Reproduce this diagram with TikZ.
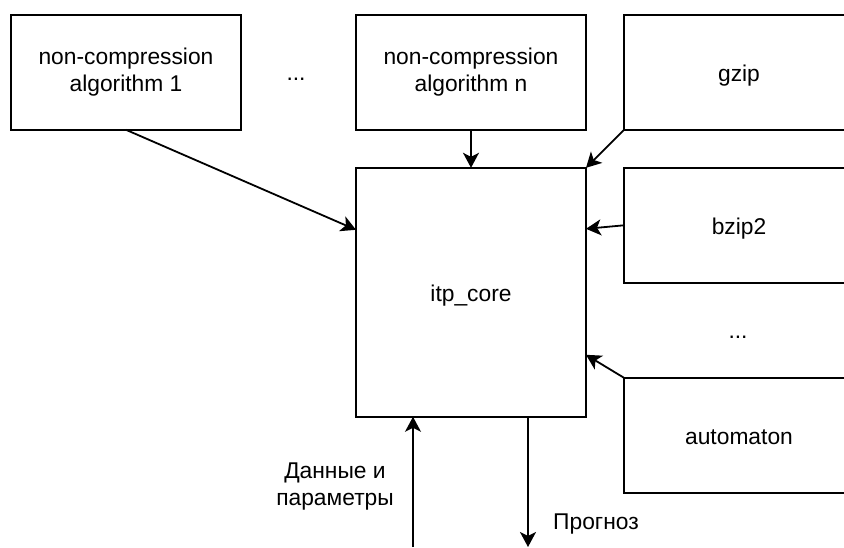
\documentclass[tikz,border=0pt]{standalone}
\usepackage{fontspec}
\setmainfont{Liberation Sans}
\usetikzlibrary{arrows.meta,positioning,calc}
\tikzset{
  block/.style={draw,line width=1.8pt,minimum width=230pt,minimum height=115pt,
    align=center,inner sep=0pt,outer sep=0pt,font=\fontsize{22.8}{27}\selectfont,
    execute at begin node={\rule[-4.8pt]{0pt}{28.1pt}}},
  coreblock/.style={block,minimum height=249pt},
  txt/.style={align=center,inner sep=0pt,font=\fontsize{22.8}{27}\selectfont},
  arrow/.style={-{Stealth[length=15pt,width=16pt,inset=4pt]},line width=1.8pt}
}
\begin{document}
\begin{tikzpicture}[x=1pt,y=-1pt]
  \clip (0,0) rectangle (844,547);
  % sources on top
  \node[block] (alg1) at (126,72.3) {non-compression\\algorithm 1};
  \node[block,right=115pt of alg1] (algn) {non-compression\\algorithm n};
  \node[block,right=38pt of algn] (gzip) {gzip};
  \node[txt] (dotstop) at (296,79.5) {...};
  % core and compressors
  \node[coreblock,below=38pt of algn] (core) {itp\_core};
  \node[block,below=38pt of gzip] (bzip) {bzip2};
  \node[txt] (dotsright) at (738,337) {...};
  \node[block,below=95pt of bzip] (auto) {automaton};
  % inputs and outputs
  \coordinate (datain) at (413,547);
  \coordinate (forecast) at (528,547);
  \node[txt] (datalbl) at (335,487) {Данные и\\параметры};
  \node[txt,anchor=west] (fclbl) at (553,524.5) {Прогноз};
  \draw[arrow] (alg1.south) -- ([yshift=62.5pt]core.west);
  \draw[arrow] (algn.south) -- (core.north);
  \draw[arrow] (gzip.south west) -- (core.north east);
  \draw[arrow] (bzip.west) -- ([yshift=63.5pt]core.east);
  \draw[arrow] (auto.north west) -- ([yshift=-62.5pt]core.east);
  \draw[arrow] (datain) -- (datain |- core.south);
  \draw[arrow] (core.south -| forecast) -- (forecast);
\end{tikzpicture}
\end{document}
